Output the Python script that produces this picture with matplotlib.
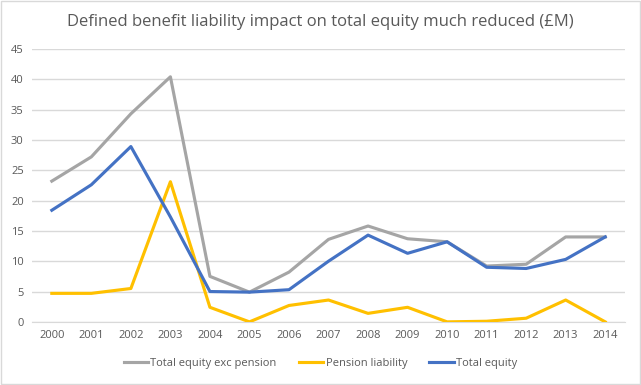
import matplotlib.pyplot as plt
from matplotlib.patches import Rectangle

years = [str(y) for y in range(2000, 2015)]
equity_exc_pension = [23.2, 27.2, 34.3, 40.4, 7.5, 4.9, 8.2, 13.6, 15.8, 13.7, 13.2, 9.2, 9.5, 14.0, 14.0]
pension_liability = [4.7, 4.7, 5.5, 23.1, 2.4, 0.0, 2.7, 3.6, 1.4, 2.4, 0.0, 0.1, 0.6, 3.6, 0.0]
total_equity = [18.4, 22.6, 28.9, 17.3, 5.0, 4.9, 5.3, 10.0, 14.3, 11.3, 13.2, 9.0, 8.8, 10.3, 14.0]

plt.rcParams['font.family'] = ['Open Sans', 'DejaVu Sans']

fig = plt.figure(figsize=(6.41, 3.85), dpi=100)
ax = fig.add_axes([0.05, 0.164, 0.925, 0.709])

# light border round the whole chart
fig.patches.append(Rectangle((0.002, 0.003), 0.996, 0.994, transform=fig.transFigure,
                             fill=False, edgecolor="#D9D9D9", linewidth=1))

x = range(len(years))
ax.plot(x, equity_exc_pension, color="#A5A5A5", lw=2.25, label="Total equity exc pension")
ax.plot(x, pension_liability, color="#FFC000", lw=2.25, label="Pension liability")
ax.plot(x, total_equity, color="#4472C4", lw=2.25, label="Total equity")

ax.set_xlim(-0.5, len(years) - 0.5)
ax.set_ylim(0, 45)
ax.set_yticks(range(0, 46, 5))
ax.set_xticks(list(x))
ax.set_xticklabels(years)
ax.tick_params(axis="both", length=0, labelsize=8, colors="#595959", pad=6)
ax.grid(axis="y", color="#D9D9D9", linewidth=1)
ax.set_axisbelow(True)
for side in ["top", "right", "left"]:
    ax.spines[side].set_visible(False)
ax.spines["bottom"].set_color("#D9D9D9")
ax.spines["bottom"].set_zorder(0)

fig.suptitle("Defined benefit liability impact on total equity much reduced (£M)",
             x=0.5, y=0.963, fontsize=12, color="#595959")

fig.legend(loc="center", bbox_to_anchor=(0.5, 0.057), ncol=3, frameon=False,
           fontsize=8, labelcolor="#595959", handlelength=2.2, handletextpad=0.2,
           columnspacing=2.0)

fig.savefig("out.png", dpi=100)
